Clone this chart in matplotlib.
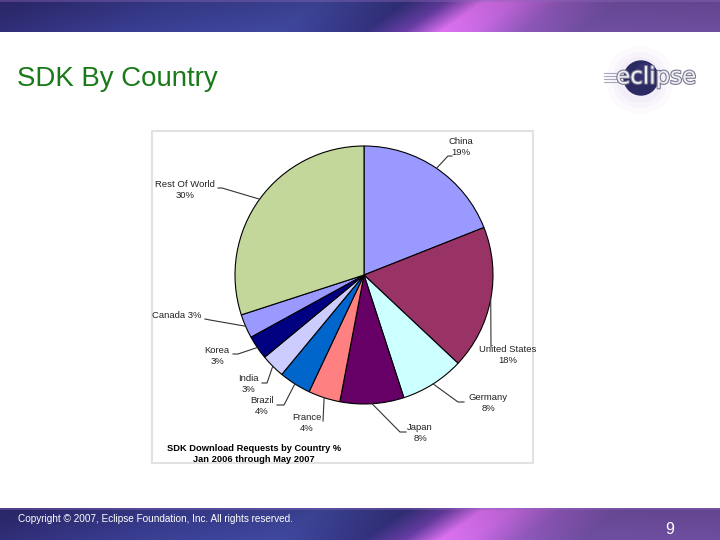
import matplotlib
matplotlib.use('Agg')
import matplotlib.pyplot as plt
import matplotlib.patheffects as pe
import numpy as np
from matplotlib.patches import Rectangle, Circle

# Dane do wykresu (kolejnosc zgodnie z ruchem wskazowek zegara od gory)
countries = ['China', 'United States', 'Germany', 'Japan', 'France',
             'Brazil', 'India', 'Korea', 'Canada', 'Rest Of World']
shares = [19, 18, 8, 8, 4, 4, 3, 3, 3, 30]
slice_colors = ['#9999ff', '#993366', '#ccffff', '#660066', '#ff8080',
                '#0066cc', '#ccccff', '#000080', '#9999ff', '#c4d79b']
label_texts = ['China\n19%', 'United States\n18%', 'Germany\n8%', 'Japan\n8%',
               'France\n4%', 'Brazil\n4%', 'India\n3%', 'Korea\n3%',
               'Canada 3%', 'Rest Of World\n30%']

# Polozenie etykiet (piksele od gory obrazka) i punkty lamania linii
label_pos = [(461, 147), (508, 355), (488, 403), (420, 433), (307, 423),
             (262, 406), (248, 384), (217, 356), (177, 316), (185, 190)]
knee_pts = [(448, 156), (491, 347), (458, 402), (400, 432), (323, 421),
            (284, 405), (267, 383), (238, 354), (210, 320), (222, 188)]
end_pts = [(452, 156), (491, 347), (464, 402), (406, 432), (323, 421),
           (277, 405), (262, 383), (233, 354), (205, 319), (218, 188)]

W, H = 720, 540


def Y(py):
    return H - py


def banner_image():
    # gradient paska w stylu slajdu Eclipse
    stops_t = [0, 150, 300, 385, 425, 462, 492, 540, 600, 900]
    stops_c = np.array([(46, 42, 112), (56, 60, 142), (62, 70, 154), (50, 48, 122),
                        (100, 60, 160), (214, 110, 234), (198, 104, 224),
                        (140, 86, 182), (108, 76, 156), (104, 74, 152)]) / 255.0
    rows, cols = 32, 720
    img = np.zeros((rows, cols, 3))
    xs = np.arange(cols)
    for r in range(rows):
        t = xs + (r - 16) * 1.4
        for k in range(3):
            img[r, :, k] = np.interp(t, stops_t, stops_c[:, k])
        img[r] *= 0.92 + 0.12 * r / rows
    img[0:2] = img[0:2] * 0.6 + np.array([0.55, 0.40, 0.72]) * 0.4
    return np.clip(img, 0, 1)


fig = plt.figure(figsize=(7.2, 5.4), dpi=100)
ax = fig.add_axes([0, 0, 1, 1])

# Paski u gory i u dolu
img = banner_image()
ax.imshow(img, extent=(0, W, Y(32), Y(0)), aspect='auto', zorder=0)
ax.imshow(img, extent=(0, W, Y(540), Y(508)), aspect='auto', zorder=0)

# Tytul slajdu
ax.text(17, Y(79), 'SDK By Country', fontsize=19.9, color='#1a7a1a',
        family='Liberation Sans', va='center', ha='left')

# Logo eclipse
for rr, a in [(34, 0.05), (28, 0.07), (23, 0.09)]:
    ax.add_patch(Circle((640, Y(80)), rr, color='#c8a8e8', alpha=a, lw=0, zorder=2))
ax.add_patch(Circle((641, Y(78)), 17, color='#2c2a62', zorder=3))
ax.add_patch(Circle((645, Y(73)), 10, color='#3c3a7a', alpha=0.5, lw=0, zorder=3))
for yy in (73, 76, 79, 82):
    ax.plot([604, 620], [Y(yy), Y(yy)], color='#a8a8bc', lw=0.8, zorder=3)
ax.text(656, Y(77), 'eclipse', fontsize=16.5, color='#f0f0f4', family='DejaVu Sans',
        ha='center', va='center', zorder=4,
        path_effects=[pe.withStroke(linewidth=1.6, foreground='#7a7a92')])

# Ramka obrazka z wykresem
ax.add_patch(Rectangle((152, Y(463)), 381, 332, facecolor='white',
                       edgecolor='#e2e2e2', lw=1.5, zorder=1))

# Wykres kolowy
cx, cy, rad = 364, Y(275), 129
wedges, _ = ax.pie(shares, colors=slice_colors, startangle=90, counterclock=False,
                   radius=rad, center=(cx, cy),
                   wedgeprops=dict(edgecolor='black', linewidth=0.8))
for w in wedges:
    w.set_zorder(5)

# Etykiety z liniami odniesienia
for w, txt, lp, kp, ep in zip(wedges, label_texts, label_pos, knee_pts, end_pts):
    ang = np.deg2rad((w.theta1 + w.theta2) / 2)
    px, py = cx + rad * np.cos(ang), cy + rad * np.sin(ang)
    ax.plot([px, kp[0], ep[0]], [py, Y(kp[1]), Y(ep[1])], color='#333333',
            lw=0.8, zorder=6)
    ax.text(lp[0], Y(lp[1]), txt, fontsize=6.8, color='#222222',
            family='Liberation Sans', ha='center', va='center',
            linespacing=1.15, zorder=6)

ax.text(254, Y(454), 'SDK Download Requests by Country %\nJan 2006 through May 2007',
        fontsize=6.7, fontweight='bold', color='black', family='Liberation Sans',
        ha='center', va='center', linespacing=1.25, zorder=6)

# Stopka
ax.text(18, Y(519), 'Copyright \u00a9 2007, Eclipse Foundation, Inc. All rights reserved.',
        fontsize=7.2, color='white', family='Liberation Sans', ha='left', va='center')
ax.text(670, Y(530), '9', fontsize=11.5, color='white', family='Liberation Sans',
        ha='center', va='center')

ax.set_xlim(0, W)
ax.set_ylim(0, H)
ax.axis('off')

fig.savefig('out.png', dpi=100)
